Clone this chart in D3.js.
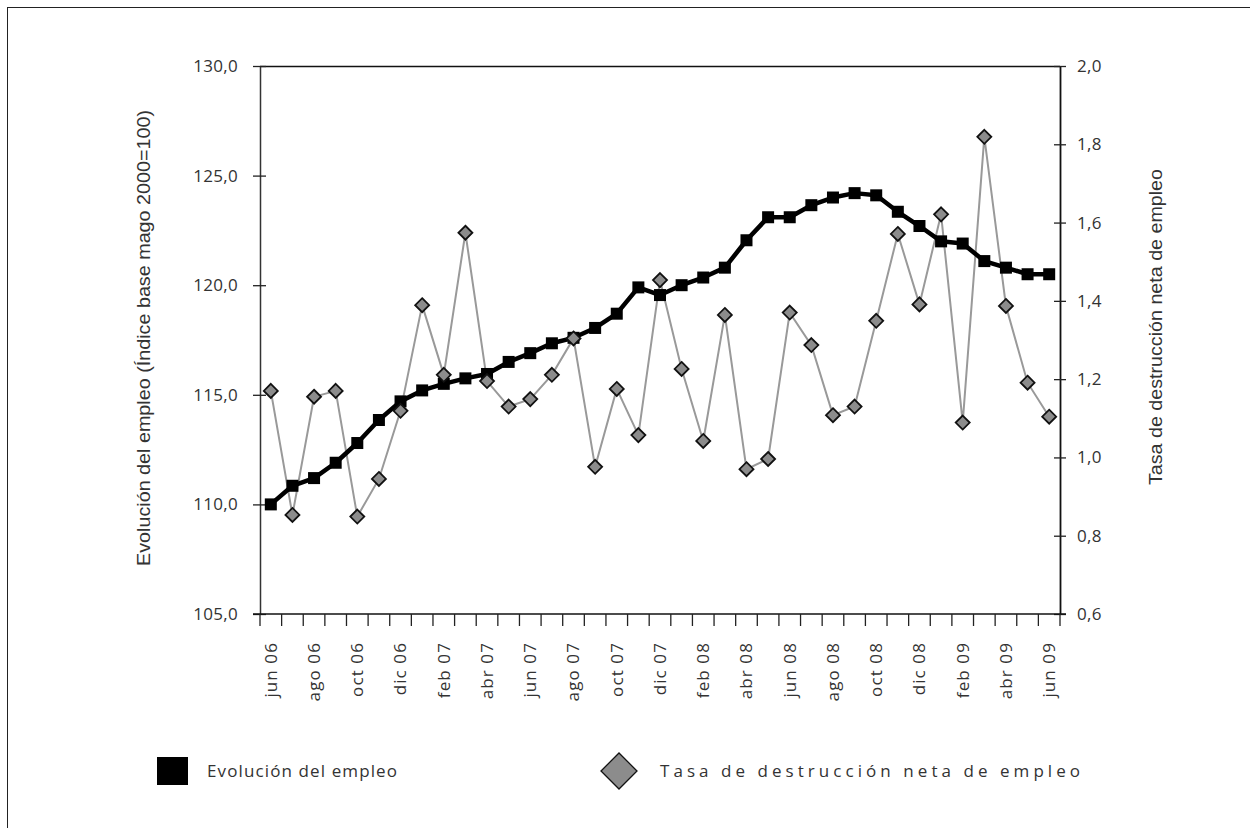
<!DOCTYPE html>
<html>
<head>
<meta charset="utf-8">
<script src="https://cdn.jsdelivr.net/npm/d3@7"></script>
<style>
  html, body { margin: 0; padding: 0; background: #fff; }
  svg { display: block; }
  text { font-family: "Open Sans", "Noto Sans", sans-serif; fill: #333; }
</style>
</head>
<body>
<svg id="chart" width="1250" height="828"></svg>
<script>
// ---- data ----
const months = [
  "jun 06","jul 06","ago 06","sep 06","oct 06","nov 06","dic 06",
  "ene 07","feb 07","mar 07","abr 07","may 07","jun 07","jul 07","ago 07","sep 07","oct 07","nov 07","dic 07",
  "ene 08","feb 08","mar 08","abr 08","may 08","jun 08","jul 08","ago 08","sep 08","oct 08","nov 08","dic 08",
  "ene 09","feb 09","mar 09","abr 09","may 09","jun 09"
];
const empleo = [
  110.0,110.85,111.2,111.9,112.8,113.85,114.7,
  115.2,115.5,115.75,115.95,116.5,116.9,117.35,117.6,118.05,118.7,119.9,119.55,
  120.0,120.35,120.8,122.05,123.1,123.1,123.65,124.0,124.2,124.1,123.35,122.7,
  122.0,121.9,121.1,120.8,120.5,120.5
];
const tasa = [
  1.17,0.853,1.155,1.17,0.849,0.945,1.119,
  1.389,1.211,1.574,1.195,1.13,1.149,1.211,1.304,0.976,1.175,1.057,1.453,
  1.226,1.042,1.364,0.970,0.996,1.37,1.287,1.108,1.13,1.349,1.571,1.391,
  1.621,1.089,1.819,1.387,1.191,1.104
];
const leftTicks = [105,110,115,120,125,130];
const rightTicks = [0.6,0.8,1.0,1.2,1.4,1.6,1.8,2.0];
const leftTitle = "Evolución del empleo (Índice base mago 2000=100)";
const rightTitle = "Tasa de destrucción neta de empleo";
const legendLabels = ["Evolución del empleo", "Tasa de destrucción neta de empleo"];

// ---- layout ----
const L = 260, R = 1060, T = 66, B = 614;
const svg = d3.select("#chart");
const fmt = d => d.toFixed(1).replace(".", ",");

// outer frame
svg.append("rect").attr("x", 7.5).attr("y", 7.5).attr("width", 1400).attr("height", 1000)
  .attr("fill", "none").attr("stroke", "#222").attr("stroke-width", 1);

const x = d3.scaleBand().domain(months).range([L, R]).paddingInner(0).paddingOuter(0);
const yL = d3.scaleLinear().domain([105, 130]).range([B, T]);
const yR = d3.scaleLinear().domain([0.6, 2.0]).range([B, T]);
const cx = d => x(d) + x.bandwidth() / 2;

// top border
svg.append("line").attr("x1", L).attr("x2", R).attr("y1", T + 0.5).attr("y2", T + 0.5)
  .attr("stroke", "#111").attr("stroke-width", 1.5);

// left axis
const gL = svg.append("g").attr("transform", `translate(${L},0)`)
  .call(d3.axisLeft(yL).tickValues(leftTicks).tickFormat(fmt).tickSizeInner(7).tickSizeOuter(0).tickPadding(15));
gL.select(".domain").attr("stroke", "#333").attr("stroke-width", 1.5);
gL.selectAll(".tick line").attr("stroke", "#222").attr("stroke-width", 1.3);
gL.selectAll(".tick").append("line").attr("x2", 6).attr("stroke", "#222").attr("stroke-width", 1.3);
gL.selectAll(".tick text").style("font-size", "17px").style("letter-spacing", "0.3px").attr("fill", "#333");

// right axis
const gR = svg.append("g").attr("transform", `translate(${R},0)`)
  .call(d3.axisRight(yR).tickValues(rightTicks).tickFormat(fmt).tickSizeInner(6).tickSizeOuter(0).tickPadding(11));
gR.select(".domain").attr("stroke", "#111").attr("stroke-width", 1.8);
gR.selectAll(".tick line").attr("stroke", "#222").attr("stroke-width", 1.3);
gR.selectAll(".tick").append("line").attr("x2", -6).attr("stroke", "#222").attr("stroke-width", 1.3);
gR.selectAll(".tick text").style("font-size", "17px").style("letter-spacing", "0.3px").attr("fill", "#333");

// bottom axis
svg.append("line").attr("x1", L - 7).attr("x2", R + 6).attr("y1", B).attr("y2", B)
  .attr("stroke", "#111").attr("stroke-width", 1.5);
const tickXs = months.map(m => x(m)).concat([x.range()[1]]);
svg.append("g").selectAll("line").data(tickXs).join("line")
  .attr("x1", d => d).attr("x2", d => d).attr("y1", B).attr("y2", B + 12)
  .attr("stroke", "#222").attr("stroke-width", 1.3);
svg.append("g").selectAll("text").data(months.filter((m, i) => i % 2 === 0)).join("text")
  .attr("transform", d => `translate(${cx(d)},${B + 28}) rotate(-90)`)
  .attr("text-anchor", "end").attr("dy", "0.35em")
  .style("font-size", "17px").style("letter-spacing", "1.1px")
  .text(d => d);

// axis titles
svg.append("text").attr("transform", `translate(143,338) rotate(-90)`)
  .attr("text-anchor", "middle").attr("dy", "0.35em")
  .attr("textLength", 456).attr("lengthAdjust", "spacingAndGlyphs")
  .style("font-family", "'Liberation Sans', Arial, sans-serif")
  .style("font-size", "19px").text(leftTitle);
svg.append("text").attr("transform", `translate(1155,327) rotate(-90)`)
  .attr("text-anchor", "middle").attr("dy", "0.35em")
  .attr("textLength", 316).attr("lengthAdjust", "spacingAndGlyphs")
  .style("font-family", "'Liberation Sans', Arial, sans-serif")
  .style("font-size", "19px").text(rightTitle);

// tasa series (grey line + diamonds)
const lineR = d3.line().x((d, i) => cx(months[i])).y(d => yR(d));
svg.append("path").datum(tasa).attr("d", lineR)
  .attr("fill", "none").attr("stroke", "#999").attr("stroke-width", 2);

// empleo series (black line + squares)
const lineL = d3.line().x((d, i) => cx(months[i])).y(d => yL(d));
svg.append("path").datum(empleo).attr("d", lineL)
  .attr("fill", "none").attr("stroke", "#000").attr("stroke-width", 4.5).attr("stroke-linejoin", "round");
svg.append("g").selectAll("rect").data(empleo).join("rect")
  .attr("x", (d, i) => cx(months[i]) - 6).attr("y", d => yL(d) - 6)
  .attr("width", 12).attr("height", 12).attr("fill", "#000");

const diamond = d3.symbol().type(d3.symbolDiamond2).size(125);
svg.append("g").selectAll("path").data(tasa).join("path")
  .attr("transform", (d, i) => `translate(${cx(months[i])},${yR(d)})`)
  .attr("d", diamond)
  .attr("fill", "#8c8c8c").attr("stroke", "#111").attr("stroke-width", 1.8);

// legend
const LY = 771;
svg.append("rect").attr("x", 157).attr("y", LY - 14).attr("width", 31).attr("height", 28).attr("fill", "#000");
svg.append("text").attr("x", 207).attr("y", LY).attr("dy", "0.35em")
  .attr("textLength", 190).attr("lengthAdjust", "spacing")
  .style("font-size", "17px").text(legendLabels[0]);
svg.append("path").attr("d", `M601,${LY} L619,${LY - 18} L637,${LY} L619,${LY + 18} Z`)
  .attr("fill", "#8c8c8c").attr("stroke", "#111").attr("stroke-width", 1.3);
svg.append("text").attr("x", 660).attr("y", LY).attr("dy", "0.35em")
  .attr("textLength", 420).attr("lengthAdjust", "spacing")
  .style("font-size", "17px").text(legendLabels[1]);
</script>
</body>
</html>
